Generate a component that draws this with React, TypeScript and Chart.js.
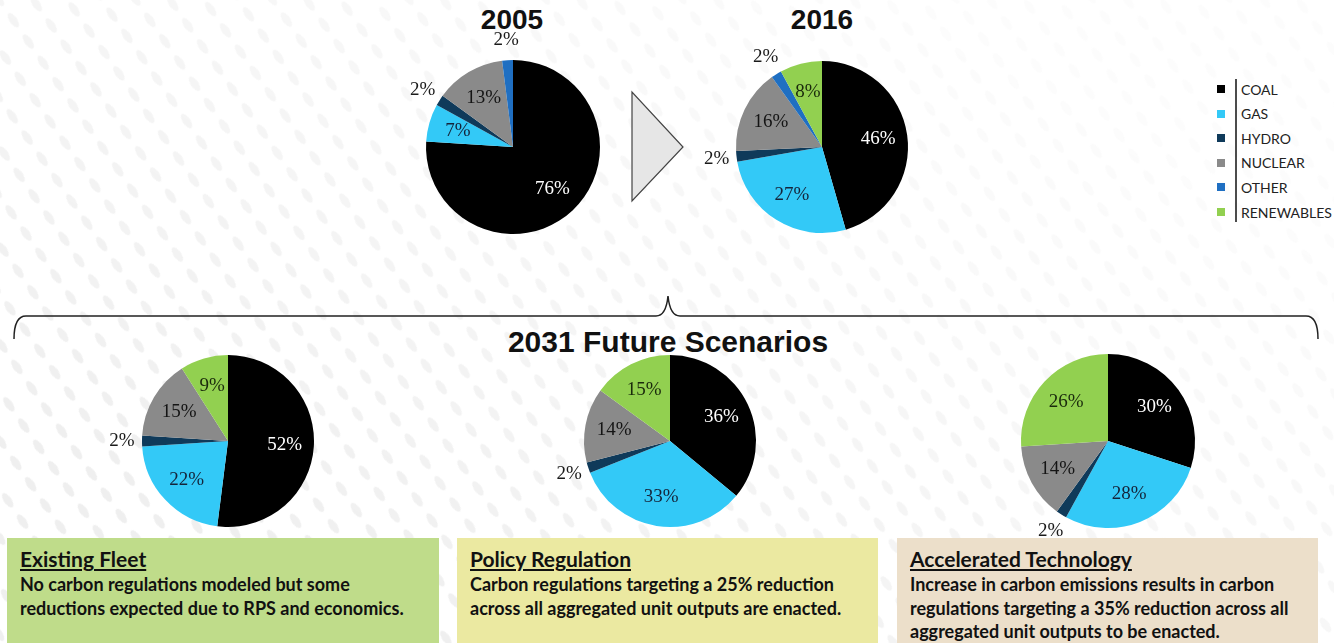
import React, { useEffect, useRef } from "react";
import { Chart, registerables } from "chart.js";

Chart.register(...registerables);

const categories = ["COAL", "GAS", "HYDRO", "NUCLEAR", "OTHER", "RENEWABLES"];
const sliceColors = ["#000000", "#33c9f7", "#0f3a5a", "#8a8a8a", "#1f6fc2", "#92d050"];
const labelColors = ["#ffffff", "#15243a", "#111111", "#141414", "#111111", "#1a2a0c"];

const values2005 = [76, 7, 2, 13, 2, 0];
const values2016 = [46, 27, 2, 16, 2, 8];
const valuesExisting = [52, 22, 2, 15, 0, 9];
const valuesPolicy = [36, 33, 2, 14, 0, 15];
const valuesAccelerated = [30, 28, 2, 14, 0, 26];

const yearTitles = ["2005", "2016"];
const scenarioHeading = "2031 Future Scenarios";
const scenarioTitles = ["Existing Fleet", "Policy Regulation", "Accelerated Technology"];
const scenarioTexts = [
  ["No carbon regulations modeled but some", "reductions expected due to RPS and economics."],
  ["Carbon regulations targeting a 25% reduction", "across all aggregated unit outputs are enacted."],
  [
    "Increase in carbon emissions results in carbon",
    "regulations targeting a 35% reduction across all",
    "aggregated unit outputs to be enacted.",
  ],
];

const sliceLabelPlugin = {
  id: "sliceLabels",
  afterDatasetsDraw(chart: any) {
    const ctx = chart.ctx;
    const meta = chart.getDatasetMeta(0);
    const data: number[] = chart.data.datasets[0].data;
    const total = data.reduce((a, b) => a + b, 0);
    ctx.save();
    ctx.font = "19px 'Liberation Serif', 'Times New Roman', serif";
    ctx.textAlign = "center";
    ctx.textBaseline = "middle";
    meta.data.forEach((arc: any, i: number) => {
      const v = data[i];
      if (!v) return;
      const p = arc.getProps(["x", "y", "startAngle", "endAngle", "outerRadius"], true);
      const mid = (p.startAngle + p.endAngle) / 2;
      const small = v / total < 0.05;
      const d = small ? p.outerRadius + 20 : p.outerRadius * 0.66;
      ctx.fillStyle = small ? "#1a1a1a" : labelColors[i];
      ctx.fillText(v + "%", p.x + Math.cos(mid) * d, p.y + Math.sin(mid) * d);
    });
    ctx.restore();
  },
};

function Pie({ values, cx, cy, r }: { values: number[]; cx: number; cy: number; r: number }) {
  const ref = useRef<HTMLCanvasElement | null>(null);
  const pad = 48;
  const size = 2 * r + 2 * pad;
  useEffect(() => {
    const chart = new Chart(ref.current as HTMLCanvasElement, {
      type: "pie",
      data: {
        labels: categories,
        datasets: [{ data: values, backgroundColor: sliceColors, borderWidth: 0 }],
      },
      options: {
        animation: false,
        responsive: false,
        maintainAspectRatio: false,
        events: [],
        layout: { padding: pad },
        plugins: { legend: { display: false }, tooltip: { enabled: false } },
      },
      plugins: [sliceLabelPlugin],
    } as any);
    return () => chart.destroy();
  }, []);
  return (
    <canvas
      ref={ref}
      width={size}
      height={size}
      style={{ position: "absolute", left: cx - size / 2, top: cy - size / 2, width: size, height: size }}
    />
  );
}

const boxColors = ["#bfdc8a", "#ebe9a1", "#ecdfca"];
const boxLefts = [7, 457, 897];
const boxWidths = [432, 421, 421];

export default function App() {
  useEffect(() => {
    document.body.style.margin = "0";
  }, []);
  return (
    <div
      style={{
        position: "fixed",
        left: 0,
        top: 0,
        width: 1334,
        height: 643,
        overflow: "hidden",
        background: "#ffffff",
        fontFamily: "'Liberation Sans', Arial, sans-serif",
      }}
    >
      {/* faint background pattern */}
      <div
        style={{
          position: "absolute",
          inset: 0,
          overflow: "hidden",
          WebkitMaskImage: "linear-gradient(30deg, rgba(0,0,0,0.9) 15%, rgba(0,0,0,0.15) 85%)",
          maskImage: "linear-gradient(30deg, rgba(0,0,0,0.9) 15%, rgba(0,0,0,0.15) 85%)",
        }}
      >
        <div
          style={{
            position: "absolute",
            left: -500,
            top: -700,
            width: 2400,
            height: 2000,
            transform: "rotate(-35deg)",
            backgroundImage:
              "radial-gradient(ellipse 4px 9px at 50% 50%, #ededed 85%, rgba(255,255,255,0) 100%)",
            backgroundSize: "28px 26px",
          }}
        />
      </div>

      {/* scenario boxes */}
      {scenarioTitles.map((t, i) => (
        <div
          key={t}
          style={{
            position: "absolute",
            left: boxLefts[i],
            top: 538,
            width: boxWidths[i],
            height: 110,
            background: boxColors[i],
          }}
        >
          <div
            style={{
              position: "absolute",
              left: 13,
              top: 8,
              font: "bold 21px Lato, 'Open Sans', sans-serif",
              lineHeight: "25px",
              textDecoration: "underline",
              color: "#111",
              whiteSpace: "nowrap",
            }}
          >
            {t}
          </div>
          <div
            style={{
              position: "absolute",
              left: 13,
              top: 35,
              font: "bold 18px Lato, 'Open Sans', sans-serif",
              lineHeight: "23.5px",
              color: "#111",
              whiteSpace: "nowrap",
            }}
          >
            {scenarioTexts[i].map((line) => (
              <div key={line}>{line}</div>
            ))}
          </div>
        </div>
      ))}

      {/* brace, arrow, legend line */}
      <svg width={1334} height={643} style={{ position: "absolute", left: 0, top: 0 }}>
        <path
          d="M14 339 Q14 316 26 316 L656 316 Q666 316 668 296 Q670 316 680 316 L1306 316 Q1318 316 1318 339"
          fill="none"
          stroke="#222"
          strokeWidth={1.5}
        />
        <polygon points="632,92 632,201 683,147" fill="#e6e6e6" stroke="#444" strokeWidth={1.2} />
        <line x1={1236} y1={79} x2={1236} y2={222} stroke="#111" strokeWidth={1.5} />
      </svg>

      {/* titles */}
      <div style={{ position: "absolute", left: 412, top: 4, width: 200, textAlign: "center", font: "bold 28px 'Liberation Sans', Arial, sans-serif", color: "#111" }}>
        {yearTitles[0]}
      </div>
      <div style={{ position: "absolute", left: 722, top: 4, width: 200, textAlign: "center", font: "bold 28px 'Liberation Sans', Arial, sans-serif", color: "#111" }}>
        {yearTitles[1]}
      </div>
      <div style={{ position: "absolute", left: 468, top: 325, width: 400, textAlign: "center", font: "bold 30px 'Liberation Sans', Arial, sans-serif", color: "#111" }}>
        {scenarioHeading}
      </div>

      {/* legend */}
      {categories.map((c, i) => (
        <div key={c} style={{ position: "absolute", left: 1217, top: 81 + i * 24.6, height: 16, display: "flex", alignItems: "center" }}>
          <div style={{ width: 8, height: 8, background: sliceColors[i] }} />
          <div style={{ marginLeft: 16, font: "14px Lato, 'Open Sans', sans-serif", color: "#222", whiteSpace: "nowrap" }}>{c}</div>
        </div>
      ))}

      {/* pies */}
      <Pie values={values2005} cx={513} cy={147} r={87} />
      <Pie values={values2016} cx={822} cy={147} r={86} />
      <Pie values={valuesExisting} cx={228} cy={441} r={86} />
      <Pie values={valuesPolicy} cx={670} cy={441} r={86} />
      <Pie values={valuesAccelerated} cx={1108} cy={441} r={87} />
    </div>
  );
}
